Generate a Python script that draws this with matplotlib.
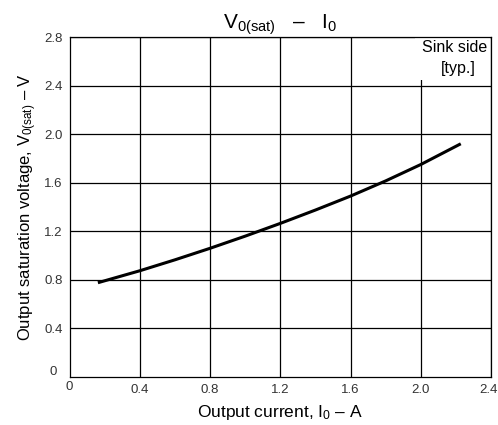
import numpy as np
import matplotlib.pyplot as plt
import matplotlib.transforms as mtransforms
from matplotlib.patches import Rectangle

plt.rcParams['font.family'] = ['Liberation Sans', 'DejaVu Sans']
plt.rcParams['mathtext.fontset'] = 'custom'
plt.rcParams['mathtext.rm'] = 'Liberation Sans'
plt.rcParams['mathtext.it'] = 'Liberation Sans'

# Output current I0 (A) and saturation voltage V0(sat) (V)
corriente = [0.17, 0.4, 0.6, 0.8, 1.0, 1.2, 1.4, 1.6, 1.8, 2.0, 2.22]
voltaje = [0.78, 0.875, 0.965, 1.06, 1.16, 1.265, 1.375, 1.49, 1.615, 1.75, 1.915]

x_ticks = [0.4, 0.8, 1.2, 1.6, 2.0, 2.4]
y_ticks = [0.4, 0.8, 1.2, 1.6, 2.0, 2.4, 2.8]

fig = plt.figure(figsize=(4.98, 4.25), dpi=100)
ax = fig.add_axes([0.1396, 0.1129, 0.8464, 0.8])

ax.set_xlim(0, 2.4)
ax.set_ylim(0, 2.8)
ax.set_xticks(x_ticks)
ax.set_yticks(y_ticks)
ax.set_xticklabels([f"{v:.1f}" for v in x_ticks], fontsize=9.5, color='#333333')
ax.set_yticklabels([f"{v:.1f}" for v in y_ticks], fontsize=9.5, color='#333333')
ax.tick_params(length=0, pad=5)
ax.grid(True, color='black', linewidth=0.9)
ax.set_axisbelow(True)
for s in ax.spines.values():
    s.set_linewidth(0.9)

# last x label sits right at the figure edge, nudge it in a little
ultimo = ax.get_xticklabels()[-1]
ultimo.set_transform(ultimo.get_transform() + mtransforms.ScaledTranslation(-3/100, 0, fig.dpi_scale_trans))

# origin labels
ax.text(-0.03, 0.015, "0", transform=ax.transAxes, ha='right', va='center', fontsize=9.5, color='#333333')
ax.text(0.0, -0.012, "0", transform=ax.transAxes, ha='center', va='top', fontsize=9.5, color='#333333')

ax.plot(corriente, voltaje, color='black', linewidth=2.2, zorder=3)

# white box behind annotation
ax.add_patch(Rectangle((0.82, 0.874), 0.178, 0.124, transform=ax.transAxes,
                       facecolor='white', edgecolor='none', zorder=2))
ax.text(0.99, 0.97, "Sink side", transform=ax.transAxes, ha='right', va='center', fontsize=11.5, zorder=4)
ax.text(0.963, 0.907, "[typ.]", transform=ax.transAxes, ha='right', va='center', fontsize=11.5, zorder=4)

ax.set_title(r"$\mathregular{V_{0(sat)}}$   –   $\mathregular{I_0}$", fontsize=15, pad=1)
ax.set_xlabel(r"Output current, $\mathregular{I_0}$ – A", fontsize=12.5, labelpad=5)
ax.set_ylabel(r"Output saturation voltage, $\mathregular{V_{0(sat)}}$ – V", fontsize=12, labelpad=4)

plt.savefig("out.png", dpi=100)
